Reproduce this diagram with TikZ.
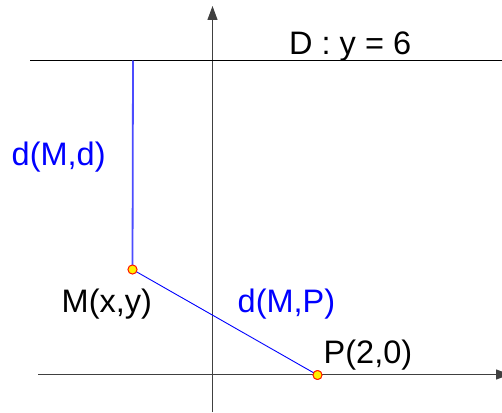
\documentclass[tikz,border=0pt]{standalone}
\usepackage{fontspec}
\setmainfont{Liberation Sans}
\usetikzlibrary{arrows.meta}
\begin{document}
\begin{tikzpicture}[x=1pt,y=-1pt,
  lbl/.style={anchor=base west,inner sep=0pt,font=\fontsize{32.5}{36}\selectfont},
  axis/.style={line width=1.1pt,draw=black!75,-{Triangle[length=14pt,width=10pt]}},
  pt/.style={circle,fill=yellow,draw=red!80!orange,line width=0.9pt,minimum size=9pt,inner sep=0pt}]
\useasboundingbox (0,0) rectangle (502,412);
\clip (0,0) rectangle (502,412);
\coordinate (xs) at (38,374.5);
\coordinate (xe) at (510,374.5);
\coordinate (ys) at (212.5,412);
\coordinate (ye) at (212.5,6);
\coordinate (ds) at (30,60.5);
\coordinate (de) at (502,60.5);
\coordinate (H) at (133,60.5);
\draw[axis] (xs) -- (xe);
\draw[axis] (ys) -- (ye);
\draw[line width=1.2pt] (ds) -- (de);
\node[pt] (M) at (132.5,269.5) {};
\node[pt] (P) at (317.5,375) {};
\draw[draw=blue!70,line width=1.8pt] (M.center) -- (H);
\draw[blue,line width=0.9pt] (M.center) -- (P.center);
\node[pt] at (M) {};
\node[pt] at (P) {};
\node[lbl] (Dl) at (289,55) {D : y = 6};
\node[lbl,text=blue] (dMd) at (11.5,165) {d(M,d)};
\node[lbl] (Ml) at (61.5,312) {M(x,y)};
\node[lbl,text=blue] (dMP) at (237.5,312) {d(M,P)};
\node[lbl] (Pl) at (323.5,363) {P(2,0)};
\end{tikzpicture}
\end{document}
